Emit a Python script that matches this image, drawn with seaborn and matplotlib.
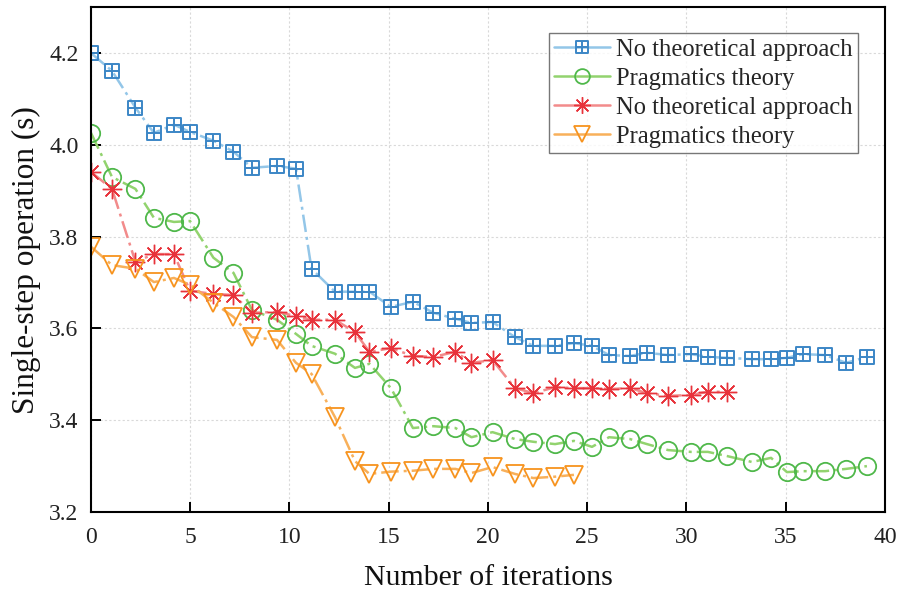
import numpy as np
import pandas as pd
import matplotlib
matplotlib.use("Agg")
import matplotlib.pyplot as plt
from matplotlib.path import Path
from matplotlib.lines import Line2D
import seaborn as sns

# ---- data ----
iters = [0, 1.06, 2.24, 3.17, 4.18, 4.99, 6.17, 7.18, 8.11, 9.37, 10.33, 11.11, 12.29,
         13.30, 14.03, 15.11, 16.22, 17.25, 18.36, 19.17, 20.23, 21.36, 22.29, 23.38,
         24.33, 25.24, 26.10, 27.15, 28.01, 29.07, 30.23, 31.08, 32.04, 33.30, 34.26,
         35.06, 35.87, 36.98, 38.04, 39.09]

blue_y = [4.200, 4.161, 4.081, 4.026, 4.044, 4.028, 4.009, 3.985, 3.950, 3.954, 3.948,
          3.730, 3.680, 3.680, 3.680, 3.647, 3.658, 3.634, 3.621, 3.612, 3.614, 3.581,
          3.562, 3.562, 3.568, 3.562, 3.542, 3.540, 3.547, 3.542, 3.544, 3.538, 3.536,
          3.533, 3.533, 3.536, 3.544, 3.542, 3.525, 3.538]

green_y = [4.026, 3.930, 3.904, 3.841, 3.832, 3.834, 3.754, 3.721, 3.640, 3.619, 3.588,
           3.562, 3.545, 3.514, 3.523, 3.470, 3.383, 3.387, 3.383, 3.363, 3.374, 3.359,
           3.353, 3.348, 3.355, 3.342, 3.363, 3.359, 3.348, 3.335, 3.331, 3.331, 3.322,
           3.309, 3.318, 3.287, 3.289, 3.289, 3.294, 3.300]

red_y = [3.941, 3.904, 3.745, 3.762, 3.762, 3.682, 3.675, 3.673, 3.634, 3.636, 3.627,
         3.619, 3.619, 3.592, 3.549, 3.557, 3.540, 3.538, 3.549, 3.525, 3.531, 3.470,
         3.459, 3.472, 3.470, 3.470, 3.468, 3.470, 3.459, 3.453, 3.455, 3.462, 3.462]

orange_y = [3.778, 3.738, 3.730, 3.701, 3.710, 3.695, 3.656, 3.625, 3.581, 3.575, 3.525,
            3.501, 3.407, 3.311, 3.283, 3.288, 3.290, 3.294, 3.294, 3.285, 3.298, 3.283,
            3.274, 3.277, 3.281]

labels = ["No theoretical approach", "Pragmatics theory",
          "No theoretical approach", "Pragmatics theory"]
x_ticks = [0, 5, 10, 15, 20, 25, 30, 35, 40]
y_ticks = [3.2, 3.4, 3.6, 3.8, 4.0, 4.2]

# ---- style ----
sns.set_theme(style="white")
plt.rcParams["font.family"] = ["Liberation Serif", "DejaVu Serif"]

# square-with-cross marker
sq_cross = Path(
    [(-1, -1), (1, -1), (1, 1), (-1, 1), (-1, -1),
     (0, -1), (0, 1), (-1, 0), (1, 0)],
    [Path.MOVETO, Path.LINETO, Path.LINETO, Path.LINETO, Path.CLOSEPOLY,
     Path.MOVETO, Path.LINETO, Path.MOVETO, Path.LINETO])

series = [
    dict(y=blue_y, line="#93c6e8", edge="#3b86c6", marker=sq_cross, ms=10.5, mew=1.4),
    dict(y=green_y, line="#92d36e", edge="#4fb84a", marker="o", ms=12.5, mew=1.3),
    dict(y=red_y, line="#f28b8b", edge="#e8333b", marker=(8, 2, 0), ms=14, mew=1.0),
    dict(y=orange_y, line="#f8b05a", edge="#f7931e", marker="v", ms=13, mew=1.3),
]

fig = plt.figure(figsize=(8.98, 5.94), dpi=100)
ax = fig.add_axes([0.1013, 0.138, 0.8842, 0.850])

handles = []
for s, lab in zip(series, labels):
    n = len(s["y"])
    df = pd.DataFrame({"iter": iters[:n], "val": s["y"]})
    sns.lineplot(data=df, x="iter", y="val", ax=ax, sort=False, estimator=None,
                 color=s["line"], lw=1.8, dashes=False, legend=False,
                 marker=s["marker"], markersize=s["ms"], markerfacecolor="none",
                 markeredgecolor=s["edge"], markeredgewidth=s["mew"])
    ax.lines[-1].set_dashes((7, 2, 1.2, 2))
    handles.append(Line2D([], [], color=s["line"], lw=1.8, marker=s["marker"],
                          markersize=s["ms"] * 0.85, markerfacecolor="none",
                          markeredgecolor=s["edge"], markeredgewidth=s["mew"]))

ax.set_xlim(0, 40)
ax.set_ylim(3.2, 4.3)
ax.set_xticks(x_ticks)
ax.set_yticks(y_ticks)
ax.set_yticklabels([f"{v:.1f}" for v in y_ticks])
ax.tick_params(direction="in", length=7, width=1.4, labelsize=17,
               bottom=True, left=True, top=False, right=False, colors="black",
               labelcolor="#222222")
ax.tick_params(axis="x", pad=11)
ax.tick_params(axis="y", pad=9)
ax.grid(True, color="#d9d9d9", linestyle=(0, (2, 2)), linewidth=0.8)
for sp in ax.spines.values():
    sp.set_color("black")
    sp.set_linewidth(1.5)

ax.set_xlabel("Number of iterations", fontsize=21.5, labelpad=12, color="#111111")
ax.set_ylabel("Single-step operation (s)", fontsize=22.5, labelpad=6, color="#111111")

leg = ax.legend(handles, labels, loc="upper right", bbox_to_anchor=(0.966, 0.948),
                fontsize=17.7, frameon=True, fancybox=False, edgecolor="#555555",
                handlelength=2.3, handletextpad=0.25, borderpad=0.2,
                labelspacing=0.28, borderaxespad=0.0)
leg.get_frame().set_linewidth(1.0)

fig.savefig("out.png", dpi=100)
